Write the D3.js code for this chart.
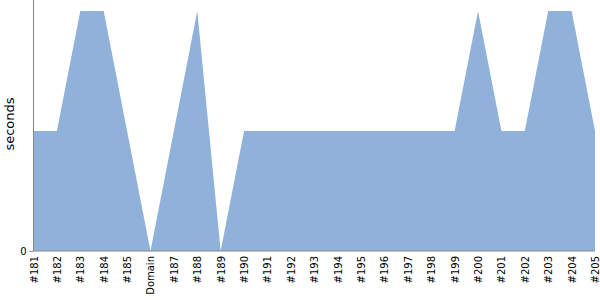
<!DOCTYPE html>
<html>
<head>
<meta charset="utf-8">
<script src="https://cdn.jsdelivr.net/npm/d3@7"></script>
<style>
  body { margin: 0; background: #fff; }
  svg { display: block; }
  svg text { font-family: "DejaVu Sans", sans-serif; }
</style>
</head>
<body>
<div id="chart"></div>
<script>
// build labels and durations (seconds)
const builds = ["#181", "#182", "#183", "#184", "#185", "Domain", "#187", "#188", "#189", "#190",
  "#191", "#192", "#193", "#194", "#195", "#196", "#197", "#198", "#199", "#200",
  "#201", "#202", "#203", "#204", "#205"];
const durations = [1, 1, 2, 2, 1, 0, 1, 2, 0, 1,
  1, 1, 1, 1, 1, 1, 1, 1, 1, 2,
  1, 1, 2, 2, 1];
const yTicks = [0];

const width = 600, height = 300;
const plotLeft = 33.5, plotRight = 595, plotTop = 11, plotBottom = 251;

const svg = d3.select('#chart').append('svg')
  .attr('width', width)
  .attr('height', height);

const x = d3.scalePoint()
  .domain(builds)
  .range([plotLeft, plotRight]);

const y = d3.scaleLinear()
  .domain([0, d3.max(durations)])
  .range([plotBottom, plotTop]);

const area = d3.area()
  .x((d, i) => x(builds[i]))
  .y0(plotBottom)
  .y1(d => y(d));

svg.append('path')
  .datum(durations)
  .attr('d', area)
  .attr('fill', '#8fb1da');

// y axis
const yAxis = svg.append('g')
  .attr('transform', 'translate(' + plotLeft + ',0)')
  .call(d3.axisLeft(y).tickValues(yTicks).tickFormat(d3.format('d')).tickSize(4).tickPadding(3));
yAxis.select('.domain').attr('d', 'M0,0V' + plotBottom).attr('stroke', '#888');
yAxis.selectAll('.tick line').attr('stroke', '#888');
yAxis.selectAll('.tick text').attr('font-size', 10).attr('fill', '#000');

// x axis
const xAxis = svg.append('g')
  .attr('transform', 'translate(0,' + plotBottom + ')')
  .call(d3.axisBottom(x).tickSize(0).tickPadding(0));
xAxis.select('.domain').attr('d', 'M' + plotLeft + ',0H' + plotRight).attr('stroke', '#888');
xAxis.selectAll('.tick text')
  .attr('font-size', 10)
  .attr('fill', '#000')
  .attr('transform', 'rotate(-90)')
  .attr('text-anchor', 'end')
  .attr('x', -5)
  .attr('y', 0)
  .attr('dy', '0.35em');

svg.append('text')
  .attr('transform', 'translate(14,124) rotate(-90)')
  .attr('text-anchor', 'middle')
  .attr('font-size', 13)
  .text('seconds');
</script>
</body>
</html>
